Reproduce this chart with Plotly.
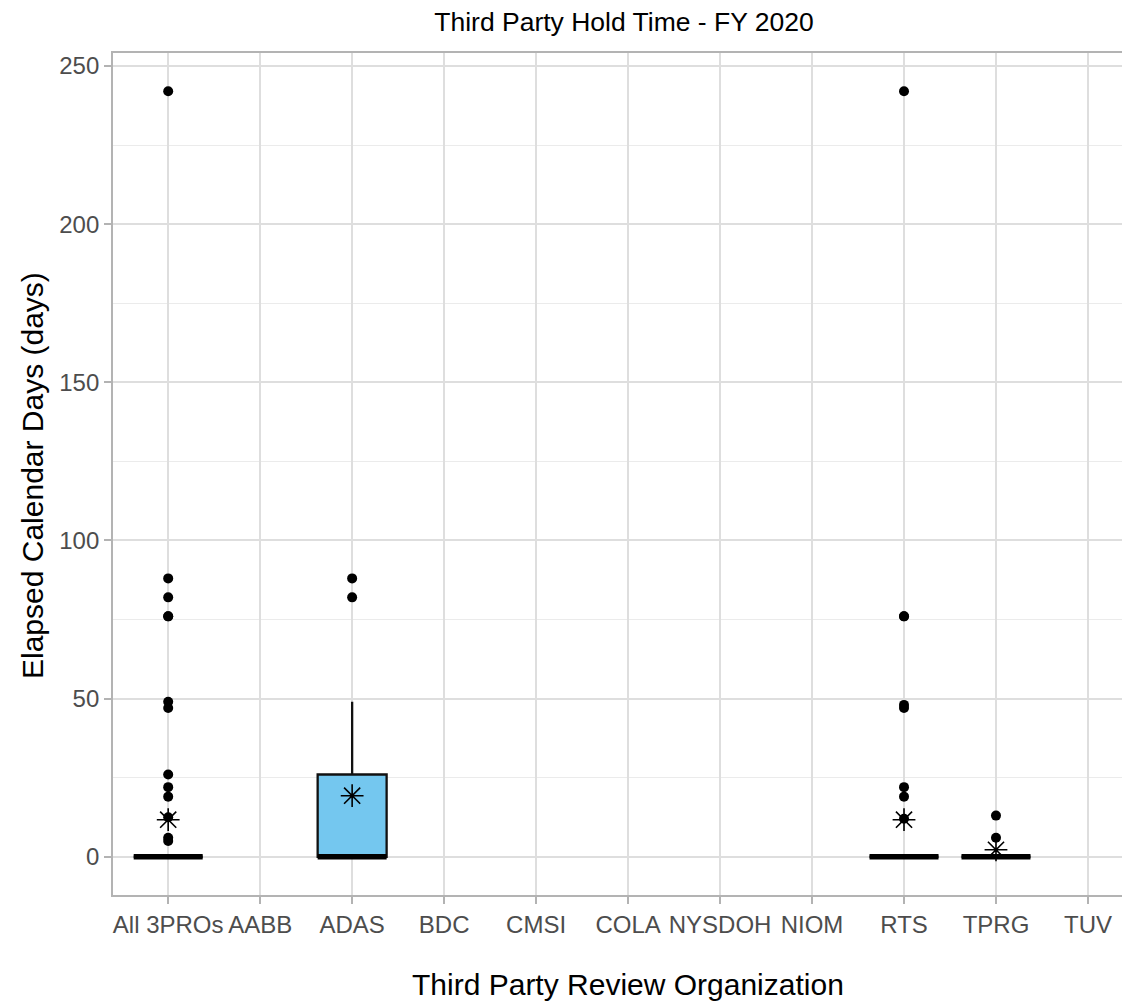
import plotly.graph_objects as go

# ---- data ----
categories = ["All 3PROs", "AABB", "ADAS", "BDC", "CMSI", "COLA",
              "NYSDOH", "NIOM", "RTS", "TPRG", "TUV"]

box_categories = ["All 3PROs", "ADAS", "RTS", "TPRG"]
box_q1 = [0, 0, 0, 0]
box_median = [0, 0, 0, 0]
box_q3 = [0, 26, 0, 0]
box_lower = [0, 0, 0, 0]
box_upper = [0, 49, 0, 0]
box_mean = [11.7, 19.3, 11.7, 2.2]

outliers_all = [242, 88, 82, 76, 76, 49, 47, 26, 22, 19, 12.5, 6, 5]
outliers_adas = [88, 82]
outliers_rts = [242, 76, 76, 48, 47, 22, 19, 12]
outliers_tprg = [13, 6]
outlier_groups = [outliers_all, outliers_adas, outliers_rts, outliers_tprg]

FONT = "Liberation Sans, Arial, sans-serif"
FILL = "#74C7EF"
BOX_W = 0.75

# page body has an ~8px default margin; size the figure to compensate
OFF = 8
W, H = 1130 - OFF, 1003 - OFF
ML, MT, MB = 113 - OFF, 53 - OFF, 108
PW, PH = W - ML, H - MT - MB

fig = go.Figure()

for i, cat in enumerate(box_categories):
    pos = categories.index(cat)
    fig.add_trace(go.Box(
        x=[pos], q1=[box_q1[i]], median=[box_median[i]], q3=[box_q3[i]],
        lowerfence=[box_lower[i]], upperfence=[box_upper[i]],
        width=BOX_W, fillcolor=FILL, line=dict(color="#111111", width=2.3),
        whiskerwidth=0, boxpoints=False, hoverinfo="skip",
    ))
    # thick median line (ggplot fatten)
    fig.add_trace(go.Scatter(
        x=[pos - BOX_W / 2, pos + BOX_W / 2], y=[box_median[i], box_median[i]],
        mode="lines", line=dict(color="#000000", width=5.5), hoverinfo="skip",
    ))
    # outliers
    outs = outlier_groups[i]
    fig.add_trace(go.Scatter(
        x=[pos] * len(outs), y=outs, mode="markers",
        marker=dict(color="#000000", size=10, line=dict(width=0)),
        hoverinfo="skip",
    ))

# means as asterisks
fig.add_trace(go.Scatter(
    x=[categories.index(c) for c in box_categories], y=box_mean,
    mode="markers",
    marker=dict(symbol="asterisk-open", size=19, color="#000000",
                line=dict(color="#000000", width=1.6)),
    hoverinfo="skip",
))

fig.update_layout(
    width=W, height=H,
    margin=dict(l=ML, r=0, t=MT, b=MB, autoexpand=False),
    paper_bgcolor="white", plot_bgcolor="white",
    showlegend=False,
    font=dict(family=FONT, color="#000000"),
    title=dict(text="Third Party Hold Time - FY 2020",
               font=dict(family=FONT, size=26.5, color="#000000"),
               xref="container", x=(624 - OFF) / W, xanchor="center",
               yref="container", y=1 - (22 - OFF) / H, yanchor="middle"),
    xaxis=dict(
        range=[-0.6, 10.457], automargin=False,
        tickmode="array", tickvals=list(range(len(categories))), ticktext=categories,
        showgrid=True, gridcolor="#DEDEDE", gridwidth=1.5,
        showline=True, linecolor="#B3B3B3", linewidth=1.8, mirror=True,
        ticks="outside", ticklen=7, tickwidth=1.5, tickcolor="#B3B3B3",
        tickfont=dict(family=FONT, size=24, color="#4D4D4D"),
        zeroline=False,
    ),
    yaxis=dict(
        range=[-12.1, 254.1], automargin=False,
        tickmode="array", tickvals=[0, 50, 100, 150, 200, 250],
        showgrid=True, gridcolor="#DEDEDE", gridwidth=1.5,
        minor=dict(tickmode="array", tickvals=[25, 75, 125, 175, 225],
                   showgrid=True, gridcolor="#EBEBEB", gridwidth=0.8, ticks=""),
        showline=True, linecolor="#B3B3B3", linewidth=1.8, mirror=False,
        ticks="outside", ticklen=7, tickwidth=1.5, tickcolor="#B3B3B3",
        tickfont=dict(family=FONT, size=24, color="#4D4D4D"),
        zeroline=False,
    ),
    annotations=[
        dict(text="Third Party Review Organization", xref="paper", yref="paper",
             x=(628 - 113) / PW, y=(895 - 985) / PH, xanchor="center", yanchor="middle",
             showarrow=False, font=dict(family=FONT, size=30, color="#000000")),
        dict(text="Elapsed Calendar Days (days)", xref="paper", yref="paper",
             x=(32 - 113) / PW, y=(895 - 476) / PH, xanchor="center", yanchor="middle",
             textangle=-90, showarrow=False,
             font=dict(family=FONT, size=30, color="#000000")),
    ],
)

fig.write_html("out.html")
